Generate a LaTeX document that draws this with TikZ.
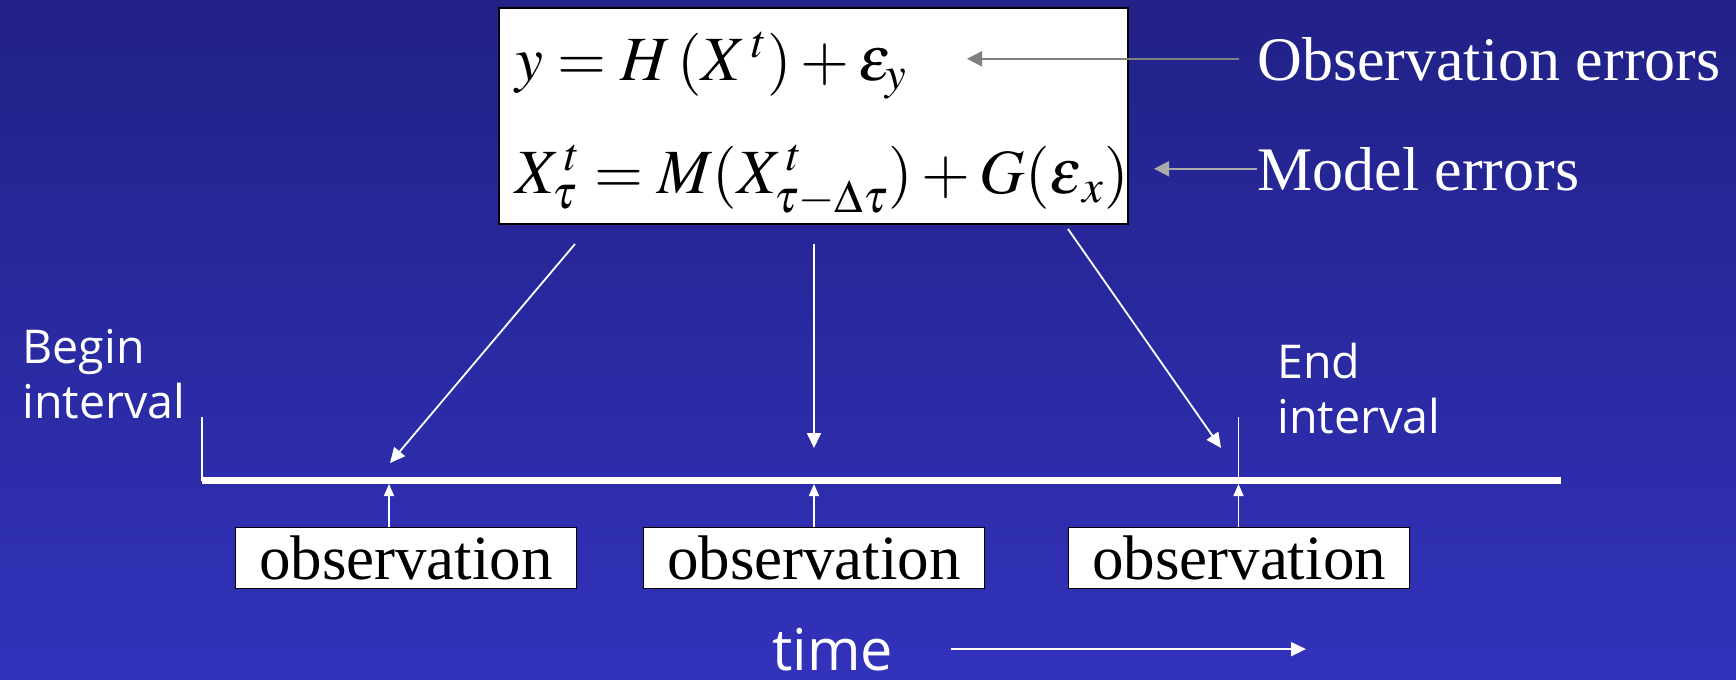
\documentclass[tikz,border=0pt]{standalone}
\usepackage{mathptmx}
\usepackage[no-math]{fontspec}
\setmainfont{Liberation Serif}
\newfontfamily\handfont{Open Sans}
\usetikzlibrary{arrows.meta}
\definecolor{bgtop}{RGB}{33,33,135}
\definecolor{bgbot}{RGB}{50,50,187}
\definecolor{obsgray}{RGB}{128,128,128}
\definecolor{modgray}{RGB}{170,170,170}

\begin{document}
\begin{tikzpicture}[x=0.5pt, y=-0.5pt,
        whitearrow/.style={white, line width=0.9pt, -{Triangle[length=7.5pt, width=7pt]}},
        uparrow/.style={white, line width=0.8pt, -{Triangle[length=6pt, width=5pt]}},
        grayarrow/.style={line width=0.9pt, -{Triangle[length=7.5pt, width=7.5pt]}},
        eqline/.style={anchor=base west, inner sep=0pt, font=\fontsize{31.5}{36}\selectfont},
        obsbox/.style={draw=black, line width=0.9pt, fill=white, minimum width=170.5pt, minimum height=30.5pt, inner sep=0pt, font=\fontsize{31.5}{36}\selectfont},
        errlabel/.style={white, anchor=base west, inner sep=0pt, font=\fontsize{31}{36}\selectfont},
        handlabel/.style={white, anchor=base west, inner sep=0pt, align=left, font=\handfont\fontsize{23.3}{27.5}\selectfont}]
            \useasboundingbox (0,0) rectangle (1736,680);
            \shade[top color=bgtop, bottom color=bgbot] (0,0) rectangle (1736,680);
            \node[draw=black, line width=1pt, fill=white, minimum width=314.5pt, minimum height=108pt, inner sep=0pt] (eqbox) at (813.5,116) {};
            \node[eqline] (eqobs) at (515,80) {$y=H\,(X^{\,t})+\varepsilon_{y}$};
            \node[eqline] (eqmod) at (515,193) {$X^{\,t}_{\tau}=M(X^{\,t}_{\tau-\Delta\tau})+G(\varepsilon_{\,x})$};
            \node[errlabel] (obserr) at (1257,80) {Observation errors};
            \node[errlabel] (moderr) at (1257,190) {Model errors};
            \coordinate (obstip) at (967,57);
            \coordinate (modtip) at (1154,167);
            \draw[grayarrow, obsgray] ([xshift=-9pt]obserr.west) -- (obserr.west -| obstip);
            \draw[grayarrow, modgray] (moderr.west) -- (moderr.west -| modtip);
            \coordinate (tlbeg) at (202,480.5);
            \coordinate (tlend) at (1561,480.5);
            \coordinate (begtop) at (202,417);
            \coordinate (endtop) at (1238.5,417);
            \coordinate (endtick) at (1238.5,480.5);
            \draw[white, line width=3.5pt] (tlbeg) -- (tlend);
            \draw[white, line width=0.9pt] (begtop) -- (tlbeg);
            \draw[white, line width=0.9pt] (endtop) -- (endtick);
            \coordinate (d1) at (575,244);
            \coordinate (d1tip) at (390,463);
            \coordinate (d2) at (814,244);
            \coordinate (d2tip) at (814,448);
            \coordinate (d3) at (1068,229);
            \coordinate (d3tip) at (1221,448);
            \draw[whitearrow] (d1) -- (d1tip);
            \draw[whitearrow] (d2) -- (d2tip);
            \draw[whitearrow] (d3) -- (d3tip);
            \node[obsbox] (ob1) at (406,558) {observation};
            \node[obsbox] (ob2) at (814,558) {observation};
            \node[obsbox] (ob3) at (1239,558) {observation};
            \coordinate (t1) at (389,484);
            \coordinate (t2) at (814,484);
            \coordinate (t3) at (1238.5,484);
            \draw[uparrow] (ob1.north -| t1) -- (t1);
            \draw[uparrow] (ob2.north -| t2) -- (t2);
            \draw[uparrow] (ob3.north -| t3) -- (t3);
            \node[handlabel] (beglbl) at (22,418) {Begin\\interval};
            \node[handlabel] (endlbl) at (1277,433) {End\\interval};
            \node[white, anchor=base west, inner sep=0pt, font=\handfont\fontsize{28.8}{34}\selectfont] (timelbl) at (772,670) {time};
            \coordinate (timetip) at (1306,653);
            \draw[whitearrow] ([xshift=28.5pt]timelbl.east) -- (timelbl.east -| timetip);
        \end{tikzpicture}
\end{document}
